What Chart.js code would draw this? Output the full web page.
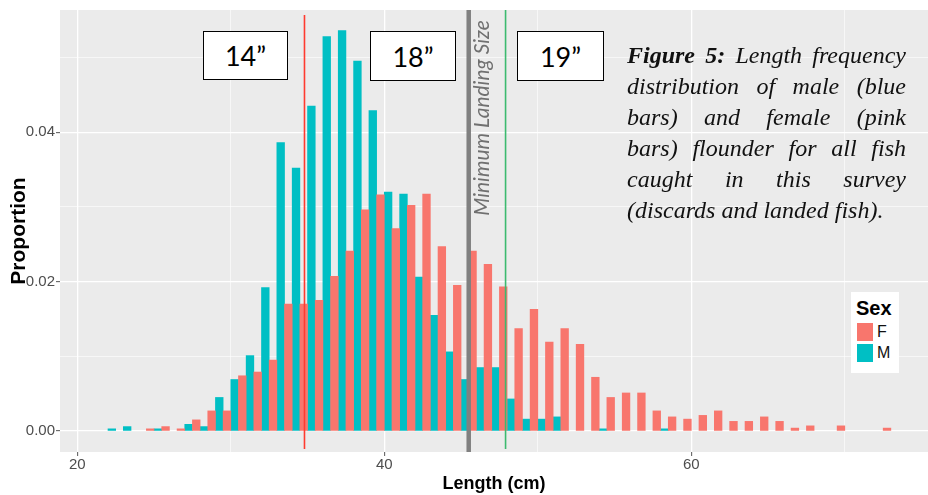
<!DOCTYPE html>
<html><head><meta charset="utf-8">
<script src="https://cdn.jsdelivr.net/npm/chart.js@4.4.1/dist/chart.umd.min.js"></script>
<style>
html,body{margin:0;padding:0;background:#fff;}
#wrap{position:relative;width:928px;height:495px;overflow:hidden;background:#fff;}
#c{position:absolute;left:0;top:0;}
.sizebox{position:absolute;box-sizing:border-box;border:1.5px solid #000;background:#fff;font-family:Lato,'Open Sans',sans-serif;font-size:27px;color:#000;display:flex;align-items:center;justify-content:center;}
#caption{position:absolute;left:627px;top:40px;width:279px;font-family:'Liberation Serif','Times New Roman',serif;font-style:italic;font-size:24px;line-height:31px;color:#111;}
#caption div{text-align:justify;text-align-last:justify;}
#caption div.last{text-align:left;text-align-last:left;}
#caption b{font-weight:bold;}
#legend{position:absolute;left:851px;top:292px;width:48px;height:81px;background:#fff;font-family:'Liberation Sans',Arial,sans-serif;}
#legend .t{position:absolute;left:5px;top:5px;font-weight:bold;font-size:20px;line-height:22px;color:#000;}
#legend .row{position:absolute;left:6px;height:18px;}
#legend .sw{position:absolute;left:0;top:0;width:16px;height:18px;}
#legend .lb{position:absolute;left:20px;top:0;font-size:16px;line-height:18px;color:#111;}
</style></head>
<body>
<div id="wrap">
<canvas id="c" width="928" height="495"></canvas>
<div class="sizebox" style="left:203px;top:31px;width:85px;height:49px;" id="b0"></div>
<div class="sizebox" style="left:370px;top:31px;width:86px;height:50px;" id="b1"></div>
<div class="sizebox" style="left:517px;top:31px;width:87px;height:50px;" id="b2"></div>
<div id="caption">
<div><b>Figure 5:</b> Length frequency</div>
<div>distribution of male (blue</div>
<div>bars) and female (pink</div>
<div>bars) flounder for all fish</div>
<div>caught in this survey</div>
<div class="last">(discards and landed fish).</div>
</div>
<div id="legend"></div>
</div>
<script>
// ---- data ----
const lengths = [22,23,24,25,26,27,28,29,30,31,32,33,34,35,36,37,38,39,40,41,42,43,44,45,46,47,48,49,50,51,52,53,54,55,56,57,58,59,60,61,62,63,64,65,66,67,68,69,70,71,72,73];
const femaleProp = [0,0,0,0.0003,0.0006,0.0003,0.0015,0.0027,0.0027,0.0074,0.0079,0.0095,0.0170,0.0170,0.0175,0.0207,0.0241,0.0296,0.0316,0.0271,0.0302,0.0317,0.0247,0.0195,0.0241,0.0223,0.0193,0.0137,0.0163,0.0119,0.0137,0.0116,0.0072,0.0045,0.0051,0.0051,0.0027,0.0019,0.0016,0.0021,0.0027,0.0013,0.0013,0.0019,0.0013,0.0004,0.0007,0,0.0007,0,0,0.0004];
const maleProp = [0.0003,0.0006,0,0.0003,0,0.0009,0.0006,0.0045,0.0069,0.0101,0.0192,0.0386,0.0352,0.0435,0.0528,0.0536,0.0495,0.0429,0.0320,0.0317,0.0206,0.0155,0.0106,0.0069,0.0085,0.0085,0.0043,0.0016,0.0016,0.0019,0,0,0.0003,0,0,0,0.0003,0,0,0,0,0,0,0,0,0,0,0,0,0,0,0];
const seriesNames = ['F','M'];
const xTicks = [20,30,40,50,60,70];
const xTickLabels = ['20','','40','','60',''];
const yTicks = [0,0.01,0.02,0.03,0.04,0.05];
const yTickLabels = ['0.00','','0.02','','0.04',''];
const refLineValues = [34.8, 45.5, 47.9]; // 14", minimum landing size, 19"
const refLineLabel = 'Minimum Landing Size';
const boxLabels = ['14\u201D','18\u201D','19\u201D'];
const legendTitle = 'Sex';

// ---- styles ----
const colF = '#F8766D', colM = '#00BFC4';
const refStyles = [
  {color:'#ff3b30', width:1.6},
  {color:'#808080', width:4.5},
  {color:'#3cba6f', width:1.6}
];

boxLabels.forEach((t,i)=>{document.getElementById('b'+i).textContent=t;});
const lg = document.getElementById('legend');
let html = '<div class="t">'+legendTitle+'</div>';
[colF,colM].forEach((c,i)=>{
  html += '<div class="row" style="top:'+(31+i*21)+'px"><div class="sw" style="background:'+c+'"></div><div class="lb">'+seriesNames[i]+'</div></div>';
});
lg.innerHTML = html;

const bgPlugin = {
  id:'bg',
  beforeDraw(chart){
    const {ctx, chartArea:a} = chart;
    ctx.save(); ctx.fillStyle='#EBEBEB';
    ctx.fillRect(a.left,a.top,a.right-a.left,a.bottom-a.top);
    ctx.restore();
  },
  afterDatasetsDraw(chart){
    const {ctx, chartArea:a, scales:{x}} = chart;
    ctx.save();
    refLineValues.forEach((v,i)=>{
      const px = x.getPixelForValue(v);
      ctx.strokeStyle = refStyles[i].color;
      ctx.lineWidth = refStyles[i].width;
      ctx.beginPath();
      ctx.moveTo(px, a.top + (i===0?5:0));
      ctx.lineTo(px, a.bottom - (i===1?0:3));
      ctx.stroke();
    });
    const gx = x.getPixelForValue(refLineValues[1]);
    ctx.translate(gx+14, a.top+108);
    ctx.rotate(-Math.PI/2);
    ctx.fillStyle = '#707070';
    ctx.font = 'italic 21px Lato, "Open Sans", sans-serif';
    ctx.textAlign='center'; ctx.textBaseline='middle';
    ctx.fillText(refLineLabel,0,0);
    ctx.restore();
  }
};

const nz = (v)=> v===0 ? null : v;
const tickFont = {family:"'Liberation Sans', Arial, sans-serif", size:15};
new Chart(document.getElementById('c'), {
  type:'bar',
  data:{
    datasets:[
      {label:seriesNames[0], data:lengths.map((l,i)=>({x:l,y:nz(femaleProp[i])})), backgroundColor:colF, borderWidth:0},
      {label:seriesNames[1], data:lengths.map((l,i)=>({x:l,y:nz(maleProp[i])})), backgroundColor:colM, borderWidth:0}
    ]
  },
  options:{
    responsive:false, animation:false, devicePixelRatio:1,
    categoryPercentage:1, barPercentage:1,
    layout:{padding:{top:7,left:0,right:0,bottom:0}},
    plugins:{legend:{display:false}, tooltip:{enabled:false}},
    scales:{
      x:{type:'linear', min:18.873, max:75.42, offset:false,
        afterBuildTicks(s){ s.ticks = xTicks.map(v=>({value:v})); },
        afterFit(s){ s.height = 43; },
        border:{display:false},
        grid:{color:'#ffffff', offset:false, lineWidth:(c)=> (c.tick && xTickLabels[xTicks.indexOf(c.tick.value)]!=='') ? 1.3 : 0.6,
          tickLength:4, tickWidth:1,
          tickColor:(c)=> (c.tick && xTickLabels[xTicks.indexOf(c.tick.value)]!=='') ? '#555' : 'rgba(0,0,0,0)'},
        ticks:{autoSkip:false, maxRotation:0, padding:0, color:'#4d4d4d', font:tickFont,
          callback:(v)=> { const i = xTicks.indexOf(v); return i>=0 ? xTickLabels[i] : ''; }},
        title:{display:true, text:'Length (cm)', color:'#000', font:{family:"'Liberation Sans', Arial, sans-serif", size:18, weight:'bold'}, padding:{top:0,bottom:0}}
      },
      y:{type:'linear', min:-0.0028, max:0.05635,
        afterBuildTicks(s){ s.ticks = yTicks.map(v=>({value:v})); },
        afterFit(s){ s.width = 60; },
        border:{display:false},
        grid:{color:'#ffffff', lineWidth:(c)=> (c.tick && yTickLabels[yTicks.indexOf(c.tick.value)]!=='') ? 1.3 : 0.6,
          tickLength:4, tickWidth:1,
          tickColor:(c)=> (c.tick && yTickLabels[yTicks.indexOf(c.tick.value)]!=='') ? '#555' : 'rgba(0,0,0,0)'},
        ticks:{autoSkip:false, padding:1, color:'#4d4d4d', font:tickFont,
          callback:(v)=> { const i = yTicks.findIndex(t=>Math.abs(t-v)<1e-9); return i>=0 ? yTickLabels[i] : ''; }},
        title:{display:true, text:'Proportion', color:'#000', font:{family:"'Liberation Sans', Arial, sans-serif", size:21, weight:'bold'}, padding:{top:7,bottom:0}}
      }
    }
  },
  plugins:[bgPlugin]
});
</script>
</body></html>
